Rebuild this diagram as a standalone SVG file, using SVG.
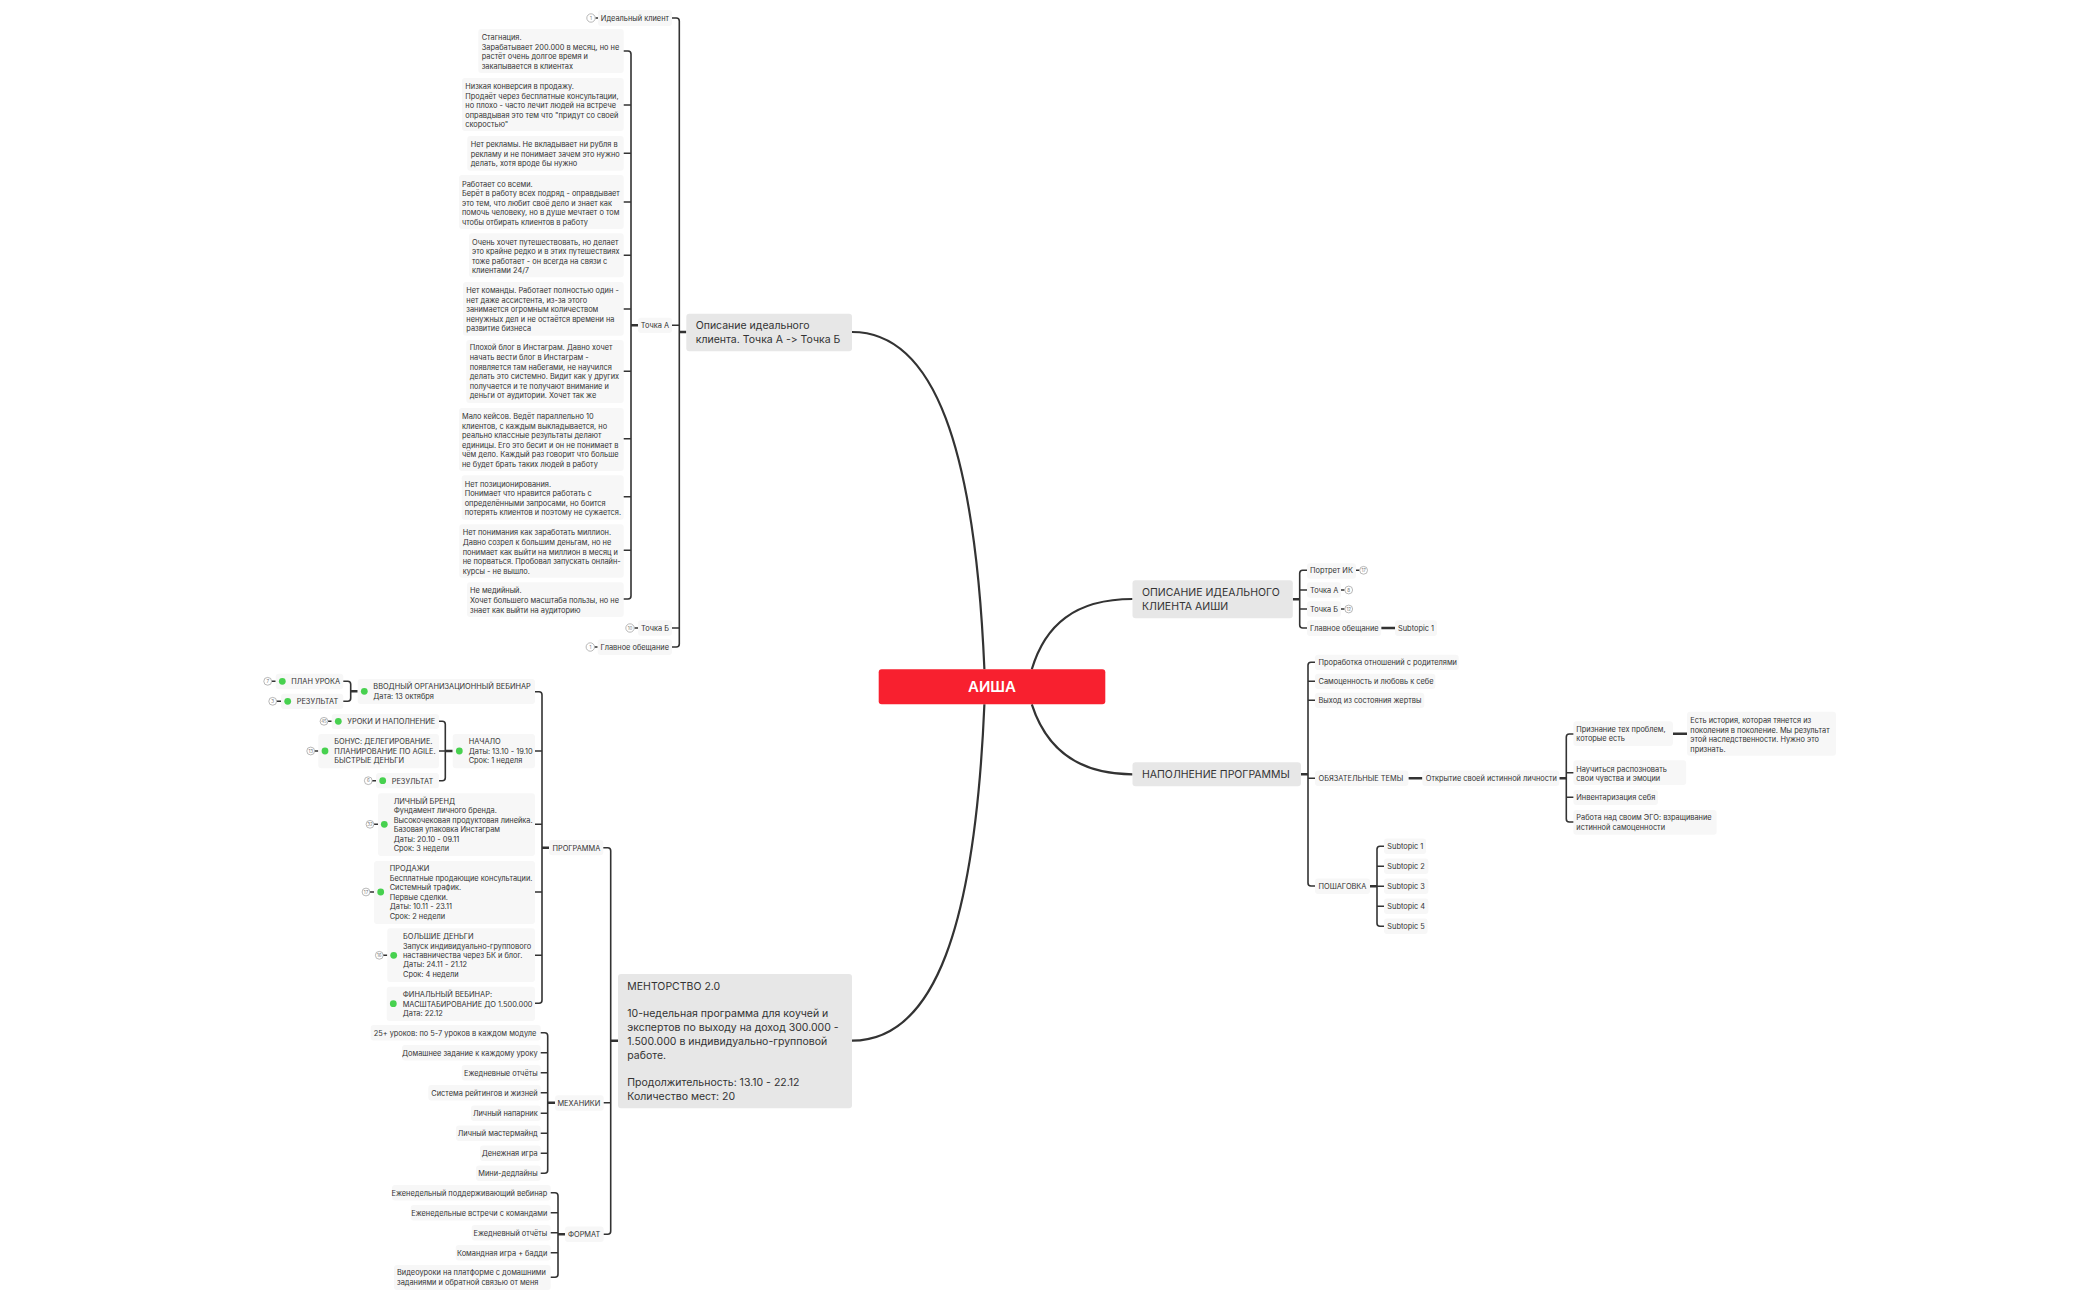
<svg xmlns="http://www.w3.org/2000/svg" width="2100" height="1300" viewBox="0 0 2100 1300">
<style>
text{font-family:Inter,"Noto Sans",sans-serif;fill:#333;font-feature-settings:"calt" 0,"liga" 0}
.t{font-size:7.4px}
.m{font-size:10.5px}
.e{text-anchor:end}
.b{fill:#f7f7f7}
.a{fill:#e7e7e7}
.c{fill:none;stroke:#333;stroke-width:1.6;stroke-linecap:round}
.k{fill:none;stroke:#333;stroke-width:2.6}
.h{fill:none;stroke:#333;stroke-width:2.2}
.d{fill:#47d14f}
.o{fill:#fff;stroke:#999;stroke-width:.7}
.n{font-size:4.5px;text-anchor:middle;fill:#777}
.s{fill:none;stroke:#333;stroke-width:1.5}
</style>
<rect width="2100" height="1300" fill="#fff"/>
<g id="connectors">
<path class="h" d="M984.4,669.3C975,450 935,332 852,332"/>
<path class="h" d="M984.4,704.3C975,925 935,1040.7 852,1040.7"/>
<path class="h" d="M1031.8,669.3C1045,625 1075,599 1132.5,599"/>
<path class="h" d="M1031.8,704.3C1045,745 1075,774.3 1132.5,774.3"/>
<path class="c" d="M672,18H676.3Q679.3,18 679.3,21V644Q679.3,647 676.3,647H672M672,325.3H679.3M672,628H679.3"/>
<path class="k" d="M679.3,332H686.3M631,325.3H638"/>
<path class="c" d="M623.7,51H628Q631,51 631,54V596Q631,599 628,599H623.7M623.7,105H631M623.7,153.3H631M623.7,202H631M623.7,255.3H631M623.7,309H631M623.7,371.3H631M623.7,438.7H631M623.7,496.7H631M623.7,550.3H631"/>
<path class="s" d="M595.5,18H598M594.5,647H597.7M634.5,628H638"/>
<path class="c" d="M535,691.7H539Q542,691.7 542,694.7V1000.3Q542,1003.3 539,1003.3H535M535,751H542M535,824.3H542M535,892H542M535,955.3H542"/>
<path class="k" d="M542,847.7H549M610.7,1040.7H618M547.7,1102.7H555M558,1234.3H565"/>
<path class="c" d="M603.3,847.7H607.7Q610.7,847.7 610.7,850.7V1231.3Q610.7,1234.3 607.7,1234.3H603.7M603.7,1102.7H610.7"/>
<path class="c" d="M540.7,1032.7H544.7Q547.7,1032.7 547.7,1035.7V1170.3Q547.7,1173.3 544.7,1173.3H540.7M540.7,1052.7H547.7M540.7,1072.7H547.7M540.7,1092.7H547.7M540.7,1113.3H547.7M540.7,1133.3H547.7M540.7,1153.3H547.7"/>
<path class="c" d="M550.7,1192.7H555Q558,1192.7 558,1195.7V1274.3Q558,1277.3 555,1277.3H550.7M550.7,1212.7H558M550.7,1232.7H558M550.7,1252.7H558"/>
<path class="c" d="M343.3,681.3H347.7Q350.7,681.3 350.7,684.3V698.3Q350.7,701.3 347.7,701.3H343.3"/>
<path class="k" d="M350.7,691.3H357.7M445.3,751H452.7"/>
<path class="c" d="M439,721.3H442.3Q445.3,721.3 445.3,724.3V777.7Q445.3,780.7 442.3,780.7H439M439,751H445.3"/>
<path class="s" d="M271.5,681.3H275.7M276.5,701.3H281M328,721.3H331.7M314.5,751H318.3M372,780.7H376M374,824.3H378M370,892H374M383,955.3H387.3"/>
<path class="k" d="M1292.8,599.3H1299.7M1300.9,774.3H1308M1370,886.3H1377M1559.3,778.3H1566.3"/>
<path class="c" d="M1307,570.3H1302.7Q1299.7,570.3 1299.7,573.3V625Q1299.7,628 1302.7,628H1307M1299.7,590H1307M1299.7,609H1307"/>
<path class="s" d="M1356,570.3H1359.5M1341,590H1344.5M1341,609H1344.5"/>
<path class="k" d="M1381.2,628H1395M1408.4,778.3H1422.4M1672.9,733.7H1687"/>
<path class="c" d="M1315,662.3H1311Q1308,662.3 1308,665.3V883Q1308,886 1311,886H1315M1308,681.3H1315M1308,700.3H1315M1308,778.3H1315"/>
<path class="c" d="M1573.4,734H1569.3Q1566.3,734 1566.3,737V819Q1566.3,822 1569.3,822H1573.4M1566.3,772.7H1573.4M1566.3,797.3H1573.4"/>
<path class="c" d="M1384,846.3H1380Q1377,846.3 1377,849.3V923.3Q1377,926.3 1380,926.3H1384M1377,866.3H1384M1377,906.3H1384M1377,886.3H1384"/>
</g>
<g id="center"><rect x="878.7" y="669.3" width="226.6" height="35" rx="3" fill="#f8202f"/><text x="992" y="692" text-anchor="middle" style="font-size:15px;font-weight:600;fill:#fff">АИША</text></g>
<g id="t-opisanie"><rect class="a" x="686.3" y="313.7" width="165.7" height="37.6" rx="3"/><text class="m"><tspan x="695.7" y="329.2">Описание идеального</tspan><tspan x="695.7" y="343.2">клиента. Точка А -&gt; Точка Б</tspan></text></g>
<g id="t-mentor"><rect class="a" x="618" y="974" width="234" height="134.3" rx="3"/><text class="m"><tspan x="627.3" y="990.2">МЕНТОРСТВО 2.0</tspan><tspan x="627.3" y="1017.2">10-недельная программа для коучей и</tspan><tspan x="627.3" y="1031.2">экспертов по выходу на доход 300.000 -</tspan><tspan x="627.3" y="1045.2">1.500.000 в индивидуально-групповой</tspan><tspan x="627.3" y="1059.2">работе.</tspan><tspan x="627.3" y="1086.2">Продолжительность: 13.10 - 22.12</tspan><tspan x="627.3" y="1100.2">Количество мест: 20</tspan></text></g>
<g id="t-opis2"><rect class="a" x="1132.5" y="580.3" width="160.3" height="38" rx="3"/><text class="m"><tspan x="1142" y="596">ОПИСАНИЕ ИДЕАЛЬНОГО</tspan><tspan x="1142" y="610">КЛИЕНТА АИШИ</tspan></text></g>
<g id="t-napol"><rect class="a" x="1132.5" y="762.3" width="168.4" height="24" rx="3"/><text class="m" x="1142" y="778.2">НАПОЛНЕНИЕ ПРОГРАММЫ</text></g>
<g id="n-ideal"><rect class="b" x="598" y="10" width="74" height="16" rx="3"/><text class="t e" x="669" y="20.8">Идеальный клиент</text><circle class="o" cx="591" cy="18" r="4.2"/><text class="n" x="591" y="19.6">1</text></g>
<g id="n-tochka-a"><rect class="b" x="638" y="317.7" width="34" height="15.4" rx="3"/><text class="t e" x="669" y="328.1">Точка А</text></g>
<g id="n-tochka-b"><rect class="b" x="638" y="620.3" width="34" height="15.4" rx="3"/><text class="t e" x="669" y="630.8">Точка Б</text><circle class="o" cx="630" cy="628" r="4.2"/><text class="n" x="630" y="629.6">10</text></g>
<g id="n-glavnoe"><rect class="b" x="597.7" y="639.3" width="74.3" height="15.7" rx="3"/><text class="t e" x="669" y="649.8">Главное обещание</text><circle class="o" cx="590.3" cy="647" r="4.2"/><text class="n" x="590.3" y="648.6">1</text></g>
<g id="l1"><rect class="b" x="478.3" y="29" width="145.4" height="44" rx="3"/><text class="t"><tspan x="481.7" y="40.2">Стагнация.</tspan><tspan x="481.7" y="49.6">Зарабатывает 200.000 в месяц, но не</tspan><tspan x="481.7" y="59.2">растёт очень долгое время и</tspan><tspan x="481.7" y="68.6">закапывается в клиентах</tspan></text></g>
<g id="l2"><rect class="b" x="462" y="78" width="161.7" height="53" rx="3"/><text class="t"><tspan x="465.3" y="88.6">Низкая конверсия в продажу.</tspan><tspan x="465.3" y="98.6">Продаёт через бесплатные консультации,</tspan><tspan x="465.3" y="107.6">но плохо - часто лечит людей на встрече</tspan><tspan x="465.3" y="117.6">оправдывая это тем что "придут со своей</tspan><tspan x="465.3" y="126.6">скоростью"</tspan></text></g>
<g id="l3"><rect class="b" x="467.3" y="136" width="156.4" height="34.7" rx="3"/><text class="t"><tspan x="470.7" y="146.6">Нет рекламы. Не вкладывает ни рубля в</tspan><tspan x="470.7" y="156.6">рекламу и не понимает зачем это нужно</tspan><tspan x="470.7" y="165.6">делать, хотя вроде бы нужно</tspan></text></g>
<g id="l4"><rect class="b" x="459" y="175" width="164.7" height="54" rx="3"/><text class="t"><tspan x="462" y="186.6">Работает со всеми.</tspan><tspan x="462" y="195.6">Берёт в работу всех подряд - оправдывает</tspan><tspan x="462" y="205.6">это тем, что любит своё дело и знает как</tspan><tspan x="462" y="214.6">помочь человеку, но в душе мечтает о том</tspan><tspan x="462" y="224.6">чтобы отбирать клиентов в работу</tspan></text></g>
<g id="l5"><rect class="b" x="469" y="233.3" width="154.7" height="44" rx="3"/><text class="t"><tspan x="472" y="244.6">Очень хочет путешествовать, но делает</tspan><tspan x="472" y="253.6">это крайне редко и в этих путешествиях</tspan><tspan x="472" y="263.6">тоже работает - он всегда на связи с</tspan><tspan x="472" y="272.6">клиентами 24/7</tspan></text></g>
<g id="l6"><rect class="b" x="463" y="282" width="160.7" height="53.7" rx="3"/><text class="t"><tspan x="466.3" y="292.6">Нет команды. Работает полностью один -</tspan><tspan x="466.3" y="302.6">нет даже ассистента, из-за этого</tspan><tspan x="466.3" y="311.6">занимается огромным количеством</tspan><tspan x="466.3" y="321.6">ненужных дел и не остаётся времени на</tspan><tspan x="466.3" y="330.6">развитие бизнеса</tspan></text></g>
<g id="l7"><rect class="b" x="466.3" y="340" width="157.4" height="63" rx="3"/><text class="t"><tspan x="469.7" y="350.2">Плохой блог в Инстаграм. Давно хочет</tspan><tspan x="469.7" y="360.2">начать вести блог в Инстаграм -</tspan><tspan x="469.7" y="370.2">появляется там набегами, не научился</tspan><tspan x="469.7" y="379.2">делать это системно. Видит как у других</tspan><tspan x="469.7" y="389.2">получается и те получают внимание и</tspan><tspan x="469.7" y="398.2">деньги от аудитории. Хочет так же</tspan></text></g>
<g id="l8"><rect class="b" x="459" y="408" width="164.7" height="63" rx="3"/><text class="t"><tspan x="462" y="418.6">Мало кейсов. Ведёт параллельно 10</tspan><tspan x="462" y="428.6">клиентов, с каждым выкладывается, но</tspan><tspan x="462" y="437.6">реально классные результаты делают</tspan><tspan x="462" y="447.6">единицы. Его это бесит и он не понимает в</tspan><tspan x="462" y="456.6">чём дело. Каждый раз говорит что больше</tspan><tspan x="462" y="466.6">не будет брать таких людей в работу</tspan></text></g>
<g id="l9"><rect class="b" x="461.7" y="475.3" width="162" height="44.4" rx="3"/><text class="t"><tspan x="464.7" y="486.6">Нет позиционирования.</tspan><tspan x="464.7" y="495.6">Понимает что нравится работать с</tspan><tspan x="464.7" y="505.6">определёнными запросами, но боится</tspan><tspan x="464.7" y="514.6">потерять клиентов и поэтому не сужается.</tspan></text></g>
<g id="l10"><rect class="b" x="459.3" y="524.3" width="164.4" height="53.4" rx="3"/><text class="t"><tspan x="462.7" y="534.6">Нет понимания как заработать миллион.</tspan><tspan x="462.7" y="544.6">Давно созрел к большим деньгам, но не</tspan><tspan x="462.7" y="554.6">понимает как выйти на миллион в месяц и</tspan><tspan x="462.7" y="563.6">не порваться. Пробовал запускать онлайн-</tspan><tspan x="462.7" y="573.6">курсы - не вышло.</tspan></text></g>
<g id="l11"><rect class="b" x="467" y="582.3" width="156.7" height="34.7" rx="3"/><text class="t"><tspan x="470" y="593.2">Не медийный.</tspan><tspan x="470" y="602.6">Хочет большего масштаба пользы, но не</tspan><tspan x="470" y="612.6">знает как выйти на аудиторию</tspan></text></g>
<g id="p-vvod"><rect class="b" x="357.7" y="679" width="177.3" height="25" rx="3"/><circle class="d" cx="364.3" cy="691.3" r="3.4"/><text class="t"><tspan x="373.3" y="689.2">ВВОДНЫЙ ОРГАНИЗАЦИОННЫЙ ВЕБИНАР</tspan><tspan x="373.3" y="699.2">Дата: 13 октября</tspan></text></g>
<g id="p-plan"><rect class="b" x="275.7" y="673.7" width="67.6" height="15.6" rx="3"/><circle class="d" cx="282.3" cy="681.3" r="3.4"/><text class="t" x="291.3" y="684.2">ПЛАН УРОКА</text><circle class="o" cx="267.7" cy="681.3" r="3.9"/><text class="n" x="267.7" y="682.9">7</text></g>
<g id="p-res1"><rect class="b" x="281" y="693.7" width="62.3" height="15.3" rx="3"/><circle class="d" cx="287.7" cy="701.3" r="3.4"/><text class="t" x="296.7" y="704.2">РЕЗУЛЬТАТ</text><circle class="o" cx="272.7" cy="701.3" r="3.9"/><text class="n" x="272.7" y="702.9">3</text></g>
<g id="p-uroki"><rect class="b" x="331.7" y="714" width="107.3" height="15" rx="3"/><circle class="d" cx="338.3" cy="721.3" r="3.4"/><text class="t" x="347.3" y="724.2">УРОКИ И НАПОЛНЕНИЕ</text><circle class="o" cx="324" cy="721.3" r="3.9"/><text class="n" x="324" y="722.9">45</text></g>
<g id="p-bonus"><rect class="b" x="318.3" y="734" width="120.7" height="34.3" rx="3"/><circle class="d" cx="325" cy="751" r="3.4"/><text class="t"><tspan x="334.3" y="744.2">БОНУС: ДЕЛЕГИРОВАНИЕ.</tspan><tspan x="334.3" y="753.9">ПЛАНИРОВАНИЕ ПО AGILE.</tspan><tspan x="334.3" y="763.2">БЫСТРЫЕ ДЕНЬГИ</tspan></text><circle class="o" cx="310.7" cy="751" r="3.9"/><text class="n" x="310.7" y="752.6">13</text></g>
<g id="p-res2"><rect class="b" x="376" y="773" width="63" height="15.3" rx="3"/><circle class="d" cx="382.7" cy="780.7" r="3.4"/><text class="t" x="391.7" y="783.6">РЕЗУЛЬТАТ</text><circle class="o" cx="368.3" cy="780.7" r="3.9"/><text class="n" x="368.3" y="782.3">6</text></g>
<g id="p-nachalo"><rect class="b" x="452.7" y="734" width="82.3" height="34.3" rx="3"/><circle class="d" cx="459.3" cy="751" r="3.4"/><text class="t"><tspan x="468.7" y="744.2">НАЧАЛО</tspan><tspan x="468.7" y="753.9">Даты: 13.10 - 19.10</tspan><tspan x="468.7" y="763.2">Срок: 1 неделя</tspan></text></g>
<g id="p-brend"><rect class="b" x="378" y="793.3" width="157" height="62.7" rx="3"/><circle class="d" cx="384.3" cy="824.3" r="3.4"/><text class="t"><tspan x="393.7" y="803.9">ЛИЧНЫЙ БРЕНД</tspan><tspan x="393.7" y="813.2">Фундамент личного бренда.</tspan><tspan x="393.7" y="823.2">Высокочековая продуктовая линейка.</tspan><tspan x="393.7" y="832.2">Базовая упаковка Инстаграм</tspan><tspan x="393.7" y="842.2">Даты: 20.10 - 09.11</tspan><tspan x="393.7" y="851.2">Срок: 3 недели</tspan></text><circle class="o" cx="370" cy="824.3" r="3.9"/><text class="n" x="370" y="825.9">32</text></g>
<g id="p-prod"><rect class="b" x="374" y="861" width="161" height="63" rx="3"/><circle class="d" cx="380.7" cy="892" r="3.4"/><text class="t"><tspan x="389.7" y="871.2">ПРОДАЖИ</tspan><tspan x="389.7" y="881.2">Бесплатные продающие консультации.</tspan><tspan x="389.7" y="890.2">Системный трафик.</tspan><tspan x="389.7" y="900.2">Первые сделки.</tspan><tspan x="389.7" y="909.2">Даты: 10.11 - 23.11</tspan><tspan x="389.7" y="919.2">Срок: 2 недели</tspan></text><circle class="o" cx="366" cy="892" r="3.9"/><text class="n" x="366" y="893.6">17</text></g>
<g id="p-big"><rect class="b" x="387.3" y="928.3" width="147.7" height="53.7" rx="3"/><circle class="d" cx="393.7" cy="955.3" r="3.4"/><text class="t"><tspan x="403" y="939.2">БОЛЬШИЕ ДЕНЬГИ</tspan><tspan x="403" y="948.6">Запуск индивидуально-группового</tspan><tspan x="403" y="958.2">наставничества через БК и блог.</tspan><tspan x="403" y="967.2">Даты: 24.11 - 21.12</tspan><tspan x="403" y="977.2">Срок: 4 недели</tspan></text><circle class="o" cx="379.3" cy="955.3" r="3.9"/><text class="n" x="379.3" y="956.9">16</text></g>
<g id="p-final"><rect class="b" x="386.7" y="986.7" width="148.3" height="34.3" rx="3"/><circle class="d" cx="393.3" cy="1003.7" r="3.4"/><text class="t"><tspan x="402.7" y="997.2">ФИНАЛЬНЫЙ ВЕБИНАР:</tspan><tspan x="402.7" y="1006.9">МАСШТАБИРОВАНИЕ ДО 1.500.000</tspan><tspan x="402.7" y="1016.2">Дата: 22.12</tspan></text></g>
<g id="p-programma"><rect class="b" x="549" y="840" width="54.3" height="15.3" rx="3"/><text class="t e" x="600.3" y="850.6">ПРОГРАММА</text></g>
<g id="p-mehaniki"><rect class="b" x="555" y="1095.3" width="48.7" height="15.4" rx="3"/><text class="t e" x="600.3" y="1105.6">МЕХАНИКИ</text></g>
<g id="p-format"><rect class="b" x="565" y="1226.5" width="38.7" height="15.5" rx="3"/><text class="t e" x="600.3" y="1237.2">ФОРМАТ</text></g>
<g id="m1"><rect class="b" x="370.7" y="1025" width="170" height="15.4" rx="3"/><text class="t" x="373.7" y="1035.6">25+ уроков: по 5-7 уроков в каждом модуле</text></g>
<g id="m2"><rect class="b" x="402" y="1045" width="138.7" height="15.4" rx="3"/><text class="t e" x="537.7" y="1055.6">Домашнее задание к каждому уроку</text></g>
<g id="m3"><rect class="b" x="461.7" y="1065" width="79" height="15.4" rx="3"/><text class="t e" x="537.7" y="1075.6">Ежедневные отчёты</text></g>
<g id="m4"><rect class="b" x="428.3" y="1085" width="112.4" height="15.4" rx="3"/><text class="t e" x="537.7" y="1095.6">Система рейтингов и жизней</text></g>
<g id="m5"><rect class="b" x="471" y="1105.6" width="69.7" height="15.4" rx="3"/><text class="t e" x="537.7" y="1116.2">Личный напарник</text></g>
<g id="m6"><rect class="b" x="456" y="1125.6" width="84.7" height="15.4" rx="3"/><text class="t e" x="537.7" y="1136.2">Личный мастермайнд</text></g>
<g id="m7"><rect class="b" x="480" y="1145.6" width="60.7" height="15.4" rx="3"/><text class="t e" x="537.7" y="1156.2">Денежная игра</text></g>
<g id="m8"><rect class="b" x="476" y="1165.6" width="64.7" height="15.4" rx="3"/><text class="t e" x="537.7" y="1176.2">Мини-дедлайны</text></g>
<g id="f1"><rect class="b" x="392" y="1185" width="158.7" height="15.4" rx="3"/><text class="t e" x="547.3" y="1195.6">Еженедельный поддерживающий вебинар</text></g>
<g id="f2"><rect class="b" x="410.7" y="1205" width="140" height="15.4" rx="3"/><text class="t e" x="547.3" y="1215.6">Еженедельные встречи с командами</text></g>
<g id="f3"><rect class="b" x="471.7" y="1225" width="79" height="15.4" rx="3"/><text class="t e" x="547.3" y="1235.6">Ежедневный отчёты</text></g>
<g id="f4"><rect class="b" x="455.7" y="1245" width="95" height="15.4" rx="3"/><text class="t e" x="547.3" y="1255.6">Командная игра + бадди</text></g>
<g id="f5"><rect class="b" x="394" y="1265" width="156.7" height="25" rx="3"/><text class="t"><tspan x="397" y="1275.2">Видеоуроки на платформе с домашними</tspan><tspan x="397" y="1285.2">заданиями и обратной связью от меня</tspan></text></g>
<g id="r1"><rect class="b" x="1307" y="563.3" width="49" height="15.4" rx="3"/><text class="t" x="1310" y="573.2">Портрет ИК</text><circle class="o" cx="1363.6" cy="570.3" r="3.9"/><text class="n" x="1363.6" y="571.9">17</text></g>
<g id="r2"><rect class="b" x="1307" y="582.3" width="34" height="15.4" rx="3"/><text class="t" x="1310" y="592.9">Точка А</text><circle class="o" cx="1348.7" cy="590" r="3.9"/><text class="n" x="1348.7" y="591.6">8</text></g>
<g id="r3"><rect class="b" x="1307" y="601.3" width="34" height="15.4" rx="3"/><text class="t" x="1310" y="611.9">Точка Б</text><circle class="o" cx="1348.7" cy="609" r="3.9"/><text class="n" x="1348.7" y="610.6">12</text></g>
<g id="r4"><rect class="b" x="1307" y="620.3" width="74.2" height="15.7" rx="3"/><text class="t" x="1310" y="630.9">Главное обещание</text></g>
<g id="r5"><rect class="b" x="1395" y="620.3" width="42" height="15.7" rx="3"/><text class="t" x="1398" y="630.9">Subtopic 1</text></g>
<g id="s1"><rect class="b" x="1315" y="654.7" width="143.7" height="15.3" rx="3"/><text class="t" x="1318.5" y="665.2">Проработка отношений с родителями</text></g>
<g id="s2"><rect class="b" x="1315" y="673.7" width="120.4" height="15.3" rx="3"/><text class="t" x="1318.5" y="684.2">Самоценность и любовь к себе</text></g>
<g id="s3"><rect class="b" x="1315" y="692.7" width="109.3" height="15.3" rx="3"/><text class="t" x="1318.5" y="703.2">Выход из состояния жертвы</text></g>
<g id="s4"><rect class="b" x="1315" y="770.5" width="93.4" height="15.5" rx="3"/><text class="t" x="1318.5" y="781.2">ОБЯЗАТЕЛЬНЫЕ ТЕМЫ</text></g>
<g id="s5"><rect class="b" x="1422.4" y="770.5" width="136.9" height="15.5" rx="3"/><text class="t" x="1425.8" y="781.2">Открытие своей истинной личности</text></g>
<g id="s6"><rect class="b" x="1573.4" y="721.3" width="99.5" height="24.7" rx="3"/><text class="t"><tspan x="1576.3" y="732.2">Признание тех проблем,</tspan><tspan x="1576.3" y="741.2">которые есть</tspan></text></g>
<g id="s7"><rect class="b" x="1687" y="711.7" width="149" height="44" rx="3"/><text class="t"><tspan x="1690.3" y="722.6">Есть история, которая тянется из</tspan><tspan x="1690.3" y="732.6">поколения в поколение. Мы результат</tspan><tspan x="1690.3" y="741.6">этой наследственности. Нужно это</tspan><tspan x="1690.3" y="751.6">признать.</tspan></text></g>
<g id="s8"><rect class="b" x="1573.4" y="760.3" width="112.8" height="24.7" rx="3"/><text class="t"><tspan x="1576.3" y="771.6">Научиться распозновать</tspan><tspan x="1576.3" y="780.6">свои чувства и эмоции</tspan></text></g>
<g id="s9"><rect class="b" x="1573.4" y="790" width="84.6" height="15" rx="3"/><text class="t" x="1576.3" y="800.2">Инвентаризация себя</text></g>
<g id="s10"><rect class="b" x="1573.4" y="810" width="143.2" height="24.7" rx="3"/><text class="t"><tspan x="1576.3" y="820.2">Работа над своим ЭГО: взращивание</tspan><tspan x="1576.3" y="830.2">истинной самоценности</tspan></text></g>
<g id="s11"><rect class="b" x="1315" y="878.6" width="55" height="15.4" rx="3"/><text class="t" x="1318.5" y="889.2">ПОШАГОВКА</text></g>
<g id="q1"><rect class="b" x="1384" y="838.6" width="42.1" height="15.4" rx="3"/><text class="t" x="1387.3" y="849.2">Subtopic 1</text></g>
<g id="q2"><rect class="b" x="1384" y="858.6" width="44.4" height="15.4" rx="3"/><text class="t" x="1387.3" y="869.2">Subtopic 2</text></g>
<g id="q3"><rect class="b" x="1384" y="878.6" width="44.4" height="15.4" rx="3"/><text class="t" x="1387.3" y="889.2">Subtopic 3</text></g>
<g id="q4"><rect class="b" x="1384" y="898.6" width="44.4" height="15.4" rx="3"/><text class="t" x="1387.3" y="909.2">Subtopic 4</text></g>
<g id="q5"><rect class="b" x="1384" y="918.6" width="43.6" height="15.4" rx="3"/><text class="t" x="1387.3" y="929.2">Subtopic 5</text></g>
</svg>
